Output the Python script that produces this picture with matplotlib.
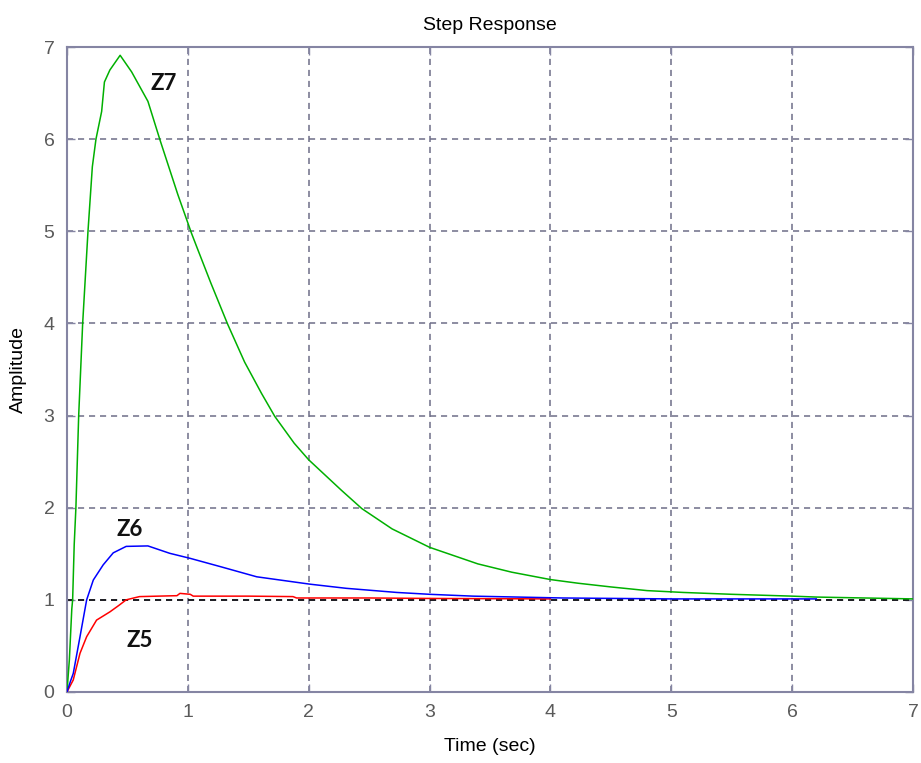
import matplotlib
matplotlib.use("Agg")
import matplotlib.pyplot as plt

# ---- data ----
t_z5 = [0, 0.052, 0.108, 0.163, 0.245, 0.356, 0.43, 0.49, 0.6, 0.91, 0.935, 1.02, 1.045, 1.5, 1.87, 1.9, 2.5, 3.0, 4.0]
y_z5 = [0, 0.13, 0.42, 0.60, 0.78, 0.87, 0.94, 1.0, 1.035, 1.045, 1.07, 1.06, 1.04, 1.04, 1.035, 1.02, 1.02, 1.015, 1.01]

t_z6 = [0, 0.03, 0.052, 0.108, 0.163, 0.218, 0.30, 0.383, 0.49, 0.67, 0.85, 1.02, 1.27, 1.57, 2.01, 2.31, 2.73, 3.0, 3.36, 4.1, 5.0, 6.2]
y_z6 = [0, 0.12, 0.20, 0.60, 1.0, 1.215, 1.38, 1.51, 1.58, 1.585, 1.505, 1.45, 1.36, 1.25, 1.17, 1.125, 1.08, 1.06, 1.04, 1.02, 1.01, 1.01]

t_z7 = [0, 0.02, 0.04, 0.047, 0.06, 0.074, 0.097, 0.13, 0.174, 0.21, 0.24, 0.287, 0.31, 0.355, 0.44,
        0.535, 0.67, 0.77, 0.917, 1.03, 1.08, 1.19, 1.33, 1.47, 1.61, 1.72, 1.88, 2.0, 2.27, 2.44,
        2.69, 3.0, 3.4, 3.68, 4.0, 4.23, 4.5, 4.8, 5.1, 5.5, 6.0, 6.2, 7.0]
y_z7 = [0, 0.35, 0.9, 1.0, 1.6, 2.0, 3.0, 4.0, 5.0, 5.7, 6.0, 6.3, 6.62, 6.75, 6.91,
        6.73, 6.41, 5.99, 5.40, 4.98, 4.81, 4.44, 3.99, 3.58, 3.24, 2.99, 2.70, 2.52, 2.19, 1.99,
        1.77, 1.57, 1.39, 1.30, 1.22, 1.18, 1.14, 1.10, 1.08, 1.06, 1.04, 1.03, 1.01]

steady_value = 1.0
x_ticks = [0, 1, 2, 3, 4, 5, 6, 7]
y_ticks = [0, 1, 2, 3, 4, 5, 6, 7]
labels = ["Z5", "Z6", "Z7"]
label_pos = [(0.60, 0.56), (0.52, 1.76), (0.80, 6.60)]

# ---- figure ----
fig = plt.figure(figsize=(9.21, 7.63), dpi=100)
ax = fig.add_axes([0.0727, 0.0931, 0.9186, 0.8453])

frame_col = "#8585a3"
grid_col = "#6e6e88"
tick_col = "#5a5a5a"

ax.set_xlim(0, 7)
ax.set_ylim(0, 7)
ax.set_xticks(x_ticks)
ax.set_yticks(y_ticks)

ax.grid(True, color=grid_col, linestyle=(0, (4, 3.2)), linewidth=1.1)
ax.set_axisbelow(True)

ax.axhline(steady_value, color="black", linestyle=(0, (4, 3.2)), linewidth=1.1, zorder=2)

ax.plot(t_z7, y_z7, color="#00b000", linewidth=1.1, zorder=3)
ax.plot(t_z6, y_z6, color="#0000ff", linewidth=1.1, zorder=4)
ax.plot(t_z5, y_z5, color="#ff0000", linewidth=1.1, zorder=3.5)

for lab, (lx, ly) in zip(labels, label_pos):
    ax.text(lx, ly, lab, fontsize=16, fontweight="bold", family="Lato",
            ha="center", va="center", color="#111111", zorder=5)

for s in ax.spines.values():
    s.set_color(frame_col)
    s.set_linewidth(1.5)

ax.tick_params(direction="in", length=6, width=1, color=frame_col,
               top=True, right=True, labelsize=14, labelcolor=tick_col, pad=9)
for lbl in ax.get_xticklabels() + ax.get_yticklabels():
    lbl.set_family("Liberation Sans")

ax.set_title("Step Response", fontsize=14, family="Liberation Sans", pad=12)
ax.set_xlabel("Time (sec)", fontsize=14, family="Liberation Sans", labelpad=12)
ax.set_ylabel("Amplitude", fontsize=14, family="Liberation Sans", labelpad=12)

fig.savefig("out.png", dpi=100)
